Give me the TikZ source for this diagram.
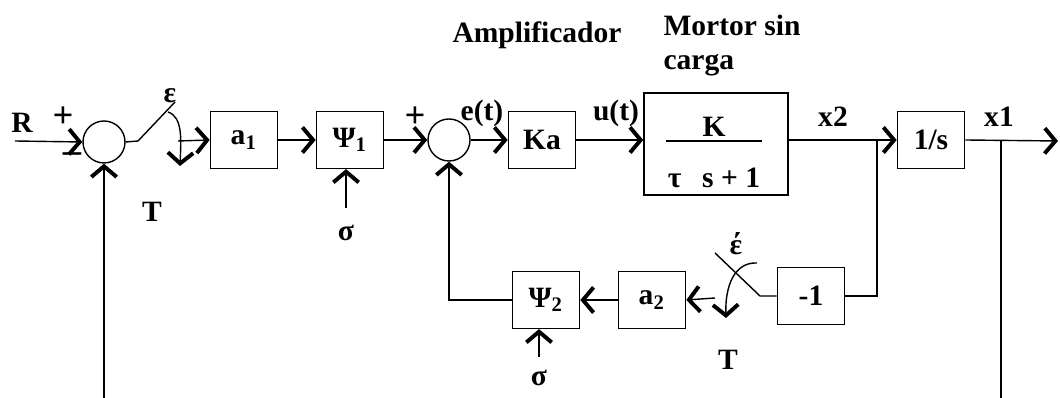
\documentclass[tikz,border=0pt]{standalone}
\usepackage{fontspec}
\setmainfont{Liberation Serif}
\usetikzlibrary{arrows.meta}

\begin{document}
\begin{tikzpicture}[x=0.0125cm, y=-0.0125cm,
        line width=0.5pt,
        lbl/.style={font=\bfseries\fontsize{10.5}{12}\selectfont, inner sep=1pt},
        sgn/.style={lbl, font=\bfseries\fontsize{13}{13}\selectfont, inner sep=0pt},
        blk/.style={draw, lbl, minimum width=0.84cm, minimum height=0.71cm},
        sumc/.style={draw, circle, minimum size=0.525cm, inner sep=0pt},
        arr/.style={-{Straight Barb[length=3.8pt, width=9pt, line width=1.4pt]}}]
      \useasboundingbox (0,0) rectangle (1060,398);
      % bloques
      \foreach \x/\y/\name/\txt in {244/140/a1/a\textsubscript{1}, 350/140/psi1/Ψ\textsubscript{1}, 542/140/ka/Ka, 931/140/integ/{1/s}, 811/296/neg/-1, 652/300/a2/a\textsubscript{2}, 546/300/psi2/Ψ\textsubscript{2}}{
        \node[blk] (\name) at (\x,\y) {\txt};
      }
      \node[draw, minimum width=1.8cm, minimum height=1.275cm] (motor) at (716,144) {};
      \node[lbl] (num) at (714,127) {K};
      \node[lbl] (den) at (714,178) {τ\hspace{0.7em}s + 1};
      \draw (666,141) -- (762,141);
      \node[sumc] (sum1) at (104,142) {};
      \node[sumc] (sum2) at (449,140) {};
      % entrada y primer muestreador
      \coordinate (in) at (15,141);
      \coordinate (sw1a) at (138,141);
      \coordinate (sw1b) at (175,102);
      \coordinate (sw1c) at (178,141);
      \draw[arr] (in) -- (sum1.west);
      \draw (sum1.east) -- (sw1a) -- (sw1b);
      \draw[arr] (168,112) .. controls (183,117) and (181,140) .. (180,166);
      \draw[arr] (sw1c) -- (a1.west);
      \draw[arr] (a1.east) -- (psi1.west);
      \draw[arr] (psi1.east) -- (sum2.west);
      \coordinate (sig1) at (346,208);
      \draw[arr] (sig1) -- (psi1.south -| sig1);
      \draw[arr] (sum2.east) -- (ka.west);
      \draw[arr] (ka.west -| ka.east) -- (motor.west |- ka.west);
      \draw[arr] (motor.east |- integ.west) -- (integ.west);
      \coordinate (out) at (1058,141);
      \draw[arr] (integ.east) -- (out);
      % lazo interno
      \coordinate (bx2) at (877,141);
      \draw (bx2) |- (neg.east);
      \coordinate (sw2a) at (760,296);
      \coordinate (sw2b) at (715,253);
      \coordinate (sw2c) at (715,298);
      \draw (neg.west) -- (sw2a) -- (sw2b);
      \draw[arr] (757,263) .. controls (735,262) and (725,285) .. (726,318);
      \draw[arr] (sw2c) -- (a2.east);
      \draw[arr] (a2.west) -- (psi2.east);
      \coordinate (sig2) at (539,357);
      \draw[arr] (sig2) -- (psi2.south -| sig2);
      \draw[arr] (psi2.west) -| (sum2.south);
      % realimentacion exterior
      \coordinate (bx1) at (1001,141);
      \coordinate (bx1d) at (1001,398);
      \draw (bx1) -- (bx1d);
      \coordinate (fb1) at (104,398);
      \draw[arr] (fb1) -- (sum1.south);
      % textos
      \node[lbl] (tR) at (22,123) {R};
      \node[sgn] (tp1) at (63,117) {+};
      \node[sgn] (tm1) at (72,158) {–};
      \node[lbl] (teps) at (170,96) {ε};
      \node[lbl] (tT1) at (152,212) {T};
      \node[lbl] (tsig1) at (346,233) {σ};
      \node[sgn] (tp2) at (415,117) {+};
      \node[lbl] (tet) at (482,113) {e(t)};
      \node[lbl] (tut) at (616,113) {u(t)};
      \node[lbl] (tamp) at (537,35) {Amplificador};
      \node[lbl, anchor=north west, align=left] (tmot) at (660,12) {Mortor sin\\carga};
      \node[lbl] (tx2) at (833,117) {x2};
      \node[lbl] (tx1) at (999,117) {x1};
      \node[lbl] (teps2) at (736,244) {έ};
      \node[lbl] (tT2) at (728,360) {T};
      \node[lbl] (tsig2) at (539,378) {σ};
    \end{tikzpicture}
\end{document}
